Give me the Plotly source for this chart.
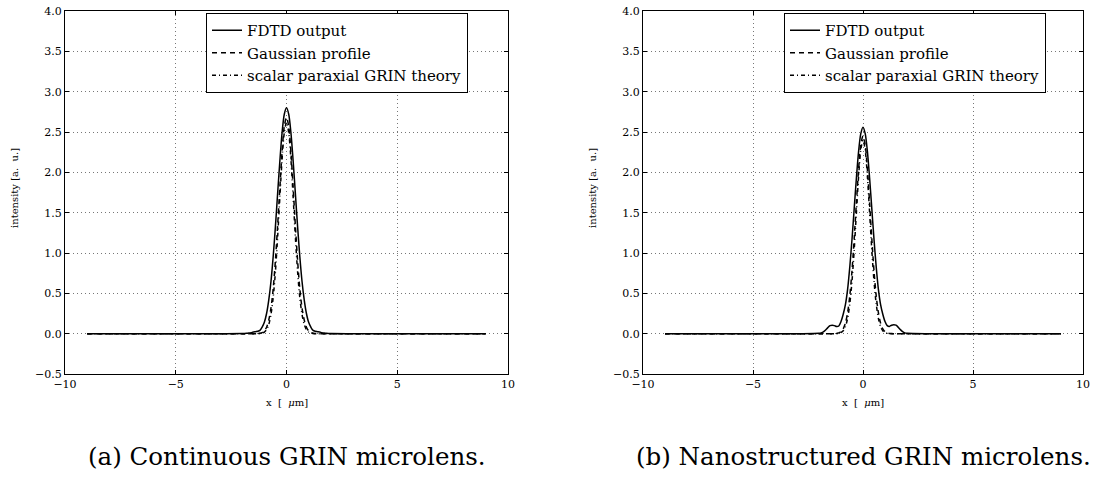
import plotly.graph_objects as go

# ---- data ----
x_um = [-9.0, -3.0, -2.0, -1.9, -1.8, -1.7, -1.6, -1.5, -1.4, -1.3, -1.2, -1.1, -1.0,
        -0.9, -0.8, -0.7, -0.6, -0.5, -0.4, -0.3, -0.2, -0.1, 0.0, 0.1, 0.2, 0.3, 0.4,
        0.5, 0.6, 0.7, 0.8, 0.9, 1.0, 1.1, 1.2, 1.3, 1.4, 1.5, 1.6, 1.7, 1.8, 1.9, 2.0,
        3.0, 9.0]

# (a) continuous GRIN microlens
fdtd_a = [0, 0, 0.002, 0.003, 0.005, 0.008, 0.012, 0.02, 0.025, 0.03, 0.04, 0.08, 0.14,
          0.25, 0.42, 0.65, 0.96, 1.33, 1.74, 2.14, 2.49, 2.72, 2.80, 2.72, 2.49, 2.14, 1.74,
          1.33, 0.96, 0.65, 0.42, 0.25, 0.14, 0.08, 0.04, 0.03, 0.025, 0.02, 0.012, 0.008, 0.005,
          0.003, 0.002, 0, 0]
gauss_a = [0, 0, 0, 0, 0, 0, 0, 0, 0, 0.001, 0.005, 0.014, 0.035,
           0.08, 0.17, 0.32, 0.56, 0.91, 1.34, 1.81, 2.25, 2.57, 2.68, 2.57, 2.25, 1.81, 1.34,
           0.91, 0.56, 0.32, 0.17, 0.08, 0.035, 0.014, 0.005, 0.001, 0, 0, 0, 0, 0,
           0, 0, 0, 0]
theory_a = [0, 0, 0, 0, 0, 0, 0, 0, 0, 0, 0.002, 0.007, 0.02,
            0.05, 0.115, 0.24, 0.45, 0.77, 1.20, 1.69, 2.16, 2.49, 2.62, 2.49, 2.16, 1.69, 1.20,
            0.77, 0.45, 0.24, 0.115, 0.05, 0.02, 0.007, 0.002, 0, 0, 0, 0, 0, 0,
            0, 0, 0, 0]

# (b) nanostructured GRIN microlens
fdtd_b = [0, 0, 0.004, 0.01, 0.022, 0.045, 0.075, 0.10, 0.105, 0.10, 0.088, 0.095, 0.15,
          0.24, 0.36, 0.55, 0.83, 1.17, 1.55, 1.93, 2.26, 2.48, 2.56, 2.48, 2.26, 1.93, 1.55,
          1.17, 0.83, 0.55, 0.36, 0.24, 0.15, 0.10, 0.09, 0.105, 0.11, 0.105, 0.08, 0.05, 0.025,
          0.01, 0.005, 0, 0]
gauss_b = [0, 0, 0, 0, 0, 0, 0, 0, 0, 0.001, 0.003, 0.01, 0.025,
           0.06, 0.13, 0.26, 0.47, 0.78, 1.18, 1.62, 2.04, 2.34, 2.45, 2.34, 2.04, 1.62, 1.18,
           0.78, 0.47, 0.26, 0.13, 0.06, 0.025, 0.01, 0.003, 0.001, 0, 0, 0, 0, 0,
           0, 0, 0, 0]
theory_b = [0, 0, 0, 0, 0, 0, 0, 0, 0, 0, 0.001, 0.004, 0.013,
            0.035, 0.086, 0.19, 0.37, 0.65, 1.04, 1.50, 1.95, 2.28, 2.40, 2.28, 1.95, 1.50, 1.04,
            0.65, 0.37, 0.19, 0.086, 0.035, 0.013, 0.004, 0.001, 0, 0, 0, 0, 0, 0,
            0, 0, 0, 0]

series_names = ["FDTD output", "Gaussian profile", "scalar paraxial GRIN theory"]
y_ticks = [-0.5, 0.0, 0.5, 1.0, 1.5, 2.0, 2.5, 3.0, 3.5, 4.0]
x_ticks = [-10, -5, 0, 5, 10]
captions = ["(a) Continuous GRIN microlens.", "(b) Nanostructured GRIN microlens."]
x_title = "x\u00a0\u00a0[\u00a0\u00a0<i>\u03bc</i>m]"
y_title = "intensity [a.\u00a0 u.]"

# ---- figure ----
FONT = "DejaVu Serif"
W, H = 1096, 479
dashes = ["solid", "5px,4px", "4px,3px,1px,3px"]

fig = go.Figure()
panels = [
    (fdtd_a, gauss_a, theory_a, "x", "y", "legend"),
    (fdtd_b, gauss_b, theory_b, "x2", "y2", "legend2"),
]
for vals_f, vals_g, vals_t, xa, ya, lg in panels:
    for name, vals, dash in zip(series_names, [vals_f, vals_g, vals_t], dashes):
        fig.add_trace(go.Scatter(
            x=x_um, y=vals, name=name, mode="lines",
            line=dict(color="black", width=1.5, dash=dash, shape="spline", smoothing=0.8),
            xaxis=xa, yaxis=ya, legend=lg,
        ))

y_dom = [(H - 374) / H, (H - 11) / H]
x_doms = [[65 / W, 508 / W], [643 / W, 1083 / W]]

axis_common = dict(
    showline=True, linecolor="black", linewidth=1, mirror="allticks",
    ticks="inside", ticklen=4, tickcolor="black", tickwidth=1,
    showgrid=True, gridcolor="#777777", gridwidth=1, griddash="1px,3px",
    zeroline=False, automargin=False,
    tickfont=dict(family=FONT, size=11, color="black"),
)

for i, (xa, ya) in enumerate([("xaxis", "yaxis"), ("xaxis2", "yaxis2")]):
    fig.layout[xa] = dict(axis_common, domain=x_doms[i], range=[-10, 10],
                          tickvals=x_ticks, anchor="y" if i == 0 else "y2")
    fig.layout[ya] = dict(axis_common, domain=y_dom, range=[-0.5, 4.0],
                          tickvals=y_ticks, tickformat=".1f",
                          anchor="x" if i == 0 else "x2")

legend_common = dict(
    bgcolor="white", bordercolor="black", borderwidth=1,
    font=dict(family=FONT, size=15, color="black"),
    xanchor="center", yanchor="top", y=(H - 13) / H,
    itemwidth=30, tracegroupgap=0,
)
fig.update_layout(
    legend=dict(legend_common, x=337 / W),
    legend2=dict(legend_common, x=915 / W),
)

annotations = []
centers = [286.5, 863]
ylab_x = [14, 592]
for i in range(2):
    annotations.append(dict(
        text=x_title, x=centers[i] / W, y=(H - 403) / H, xref="paper", yref="paper",
        showarrow=False, xanchor="center", yanchor="middle",
        font=dict(family=FONT, size=10, color="black")))
    annotations.append(dict(
        text=y_title, x=ylab_x[i] / W, y=(H - 188) / H, xref="paper", yref="paper",
        showarrow=False, xanchor="center", yanchor="middle", textangle=-90,
        font=dict(family=FONT, size=10, color="black")))
    annotations.append(dict(
        text=captions[i], x=centers[i] / W, y=(H - 456) / H, xref="paper", yref="paper",
        showarrow=False, xanchor="center", yanchor="middle",
        font=dict(family=FONT, size=24.5, color="black")))

fig.update_layout(
    width=W, height=H, autosize=False,
    margin=dict(l=0, r=0, t=0, b=0, pad=0, autoexpand=False),
    paper_bgcolor="white", plot_bgcolor="white",
    annotations=annotations,
    font=dict(family=FONT, color="black"),
)

fig.write_html("out.html")
